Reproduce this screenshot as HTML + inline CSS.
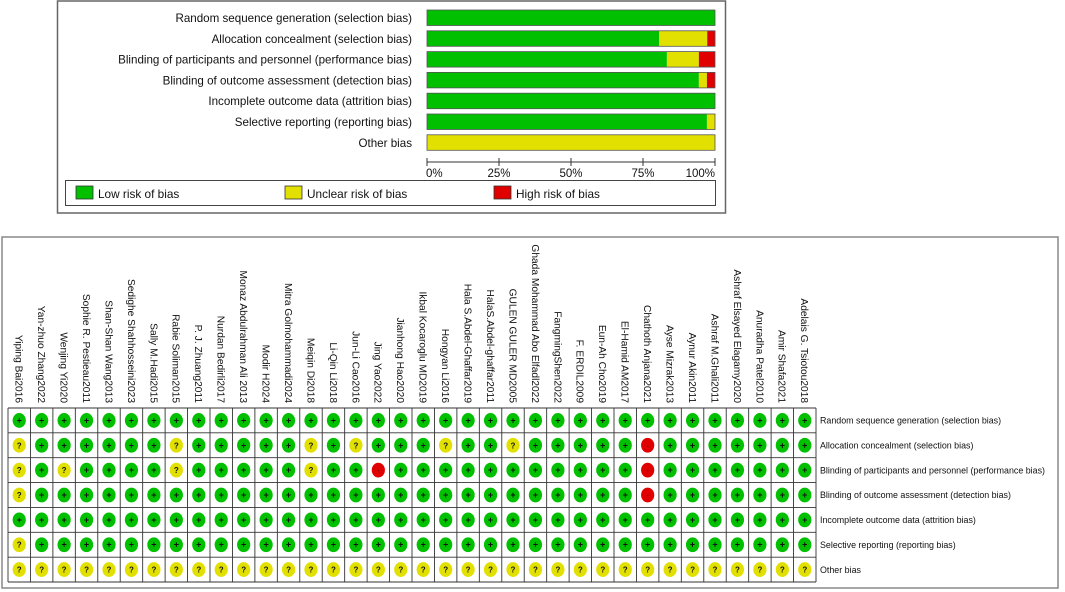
<!DOCTYPE html>
<html><head><meta charset="utf-8"><style>
html,body{margin:0;padding:0;background:#fff;}
svg{display:block;font-family:"Liberation Sans",Arial,sans-serif;}
</style></head><body>
<svg id="fig" width="1065" height="592" viewBox="0 0 1065 592" xmlns="http://www.w3.org/2000/svg">
<rect x="57.5" y="1" width="668" height="212" fill="#fff" stroke="#666" stroke-width="1.5"/>
<g id="summary"></g>
<rect x="2" y="237" width="1056" height="351" fill="#fff" stroke="#888" stroke-width="1.5"/>
<g id="grid"></g>
</svg>
<script>
const domains = ["Random sequence generation (selection bias)","Allocation concealment (selection bias)","Blinding of participants and personnel (performance bias)","Blinding of outcome assessment (detection bias)","Incomplete outcome data (attrition bias)","Selective reporting (reporting bias)","Other bias"];
const lowPct = [100, 80.6, 83.3, 94.4, 100, 97.2, 0];
const unclearPct = [0, 16.7, 11.1, 2.8, 0, 2.8, 100];
const highPct = [0, 2.8, 5.6, 2.8, 0, 0, 0];
const tickLabels = ["0%","25%","50%","75%","100%"];
const tickValues = [0,25,50,75,100];
const studies = ["Yiping Bai2016","Yan-zhuo Zhang2022","Wenjing Yi2020","Sophie R. Pestieau2011","Shan-Shan Wang2013","Sedighe Shahhosseini2023","Sally M.Hadi2015","Rabie Soliman2015","P. J. Zhuang2011","Nurdan Bedirli2017","Monaz Abdulrahman Ali 2013","Modir H2024","Mitra Golmohammadi2024","Meiqin Di2018","Li-Qin Li2018","Jun-Li Cao2016","Jing Yao2022","Jianhong Hao2020","Ikbal Kocaroglu MD2019","Hongyan Li2016","Hala S.Abdel-Ghaffar2019","HalaS.Abdel-ghaffar2011","GULEN GULER MD2005","Ghada Mohammad Abo Elfadl2022","FangmingShen2022","F. ERDIL2009","Eun-Ah Cho2019","El-Hamid AM2017","Chathoth Anjana2021","Ayse Mizrak2013","Aynur Akin2011","Ashraf M.Ghali2011","Ashraf Elsayed Elagamy2020","Anuradha Patel2010","Amir Shafa2021","Adelais G. Tsiotou2018"];
const judgRandom    = "++++++++++++++++++++++++++++++++++++";
const judgAlloc     = "?++++++?+++++?+?+++?++?+++++-+++++++";
const judgBlindPart = "?+?++++?+++++?++-+++++++++++-+++++++";
const judgBlindOut  = "?+++++++++++++++++++++++++++-+++++++";
const judgIncomplete= "++++++++++++++++++++++++++++++++++++";
const judgSelective = "?+++++++++++++++++++++++++++++++++++";
const judgOther     = "????????????????????????????????????";
const judgments = [judgRandom,judgAlloc,judgBlindPart,judgBlindOut,judgIncomplete,judgSelective,judgOther];

const NS="http://www.w3.org/2000/svg";
function mk(tag, attrs, parent){const e=document.createElementNS(NS,tag);for(const k in attrs)e.setAttribute(k,attrs[k]);parent.appendChild(e);return e;}
const GREEN="#00c000", YEL="#e2e000", RED="#e00000";

const S=document.getElementById('summary');
const x0=427, x1=715;
const xs=v=>x0+(x1-x0)*v/100;
const rowY=i=>10+i*20.8;
const barH=15.5;
domains.forEach((d,i)=>{
  const t=mk('text',{x:412,y:rowY(i)+12,'text-anchor':'end','font-size':11.6,fill:'#111'},S);
  t.textContent=d;
  
  
  let acc=0;
  [[lowPct[i],GREEN,'low'],[unclearPct[i],YEL,'unclear'],[highPct[i],RED,'high']].forEach(([v,c,n])=>{
    if(v<=0) return;
    const r=mk('rect',{x:xs(acc),y:rowY(i),width:xs(acc+v)-xs(acc),height:barH,fill:c},S);
    
    
    acc+=v;
  });
  const o=mk('rect',{x:x0,y:rowY(i),width:x1-x0,height:barH,fill:'none',stroke:'#555','stroke-width':0.8},S);
  
  
});
const ax=mk('line',{x1:x0,x2:x1,y1:162,y2:162,stroke:'#333','stroke-width':1},S);


tickValues.forEach((v,k)=>{
  const tk=mk('line',{x1:xs(v),x2:xs(v),y1:158,y2:166,stroke:'#333'},S);
  
  
  const tl=mk('text',{x:xs(v)+(k===0?-1:0),y:177,'text-anchor':k===0?'start':(k===4?'end':'middle'),'font-size':11.5,fill:'#111'},S);
  tl.textContent=tickLabels[k];
  
  
});
const lb=mk('rect',{x:65.5,y:180.5,width:650,height:25,fill:'#fff',stroke:'#444','stroke-width':1},S);


[["Low risk of bias",GREEN,76],["Unclear risk of bias",YEL,285],["High risk of bias",RED,494]].forEach(([n,c,lx])=>{
  const sw=mk('rect',{x:lx,y:186,width:17,height:13,fill:c,stroke:'#333','stroke-width':0.8},S);
  
  
  const lt=mk('text',{x:lx+22,y:198,'font-size':11.8,fill:'#111'},S);
  lt.textContent=n;
  
  
});

const G=document.getElementById('grid');
const gx0=8, gx1=816, gy0=408, gy1=582;
const cw=(gx1-gx0)/studies.length, rh=(gy1-gy0)/domains.length;
studies.forEach((s,j)=>{
  const cx=gx0+cw*(j+0.5);
  const t=mk('text',{transform:`translate(${cx-3.6},403) rotate(90)`,'text-anchor':'end','font-size':10.2,fill:'#111'},G);
  t.textContent=s;
  
  
});
domains.forEach((d,i)=>{
  const cy=gy0+rh*(i+0.5);
  const t=mk('text',{x:820,y:cy+3.2,'font-size':8.9,fill:'#111'},G);
  t.textContent=d;
  
  
  studies.forEach((s,j)=>{
    const cx=gx0+cw*(j+0.5);
    const v=judgments[i][j];
    const c=v==='+'?GREEN:(v==='?'?YEL:RED);
    const e=mk('ellipse',{cx:cx,cy:cy,rx:6.6,ry:7.4,fill:c},G);
    
    
    const g=mk('text',{x:cx,y:cy+(v==='-'?2:3),'text-anchor':'middle','font-size':v==='?'?8:(v==='-'?5:9),'font-weight':'bold',fill:'#111'},G);
    g.textContent=v;
    
    
  });
});
for(let j=0;j<=studies.length;j++){
  const l=mk('line',{x1:gx0+cw*j,x2:gx0+cw*j,y1:gy0,y2:gy1,stroke:'#333','stroke-width':0.9},G);
  
  
}
for(let i=0;i<=domains.length;i++){
  const l=mk('line',{x1:gx0,x2:gx1,y1:gy0+rh*i,y2:gy0+rh*i,stroke:'#333','stroke-width':0.9},G);
  
  
}
</script>
</body></html>
